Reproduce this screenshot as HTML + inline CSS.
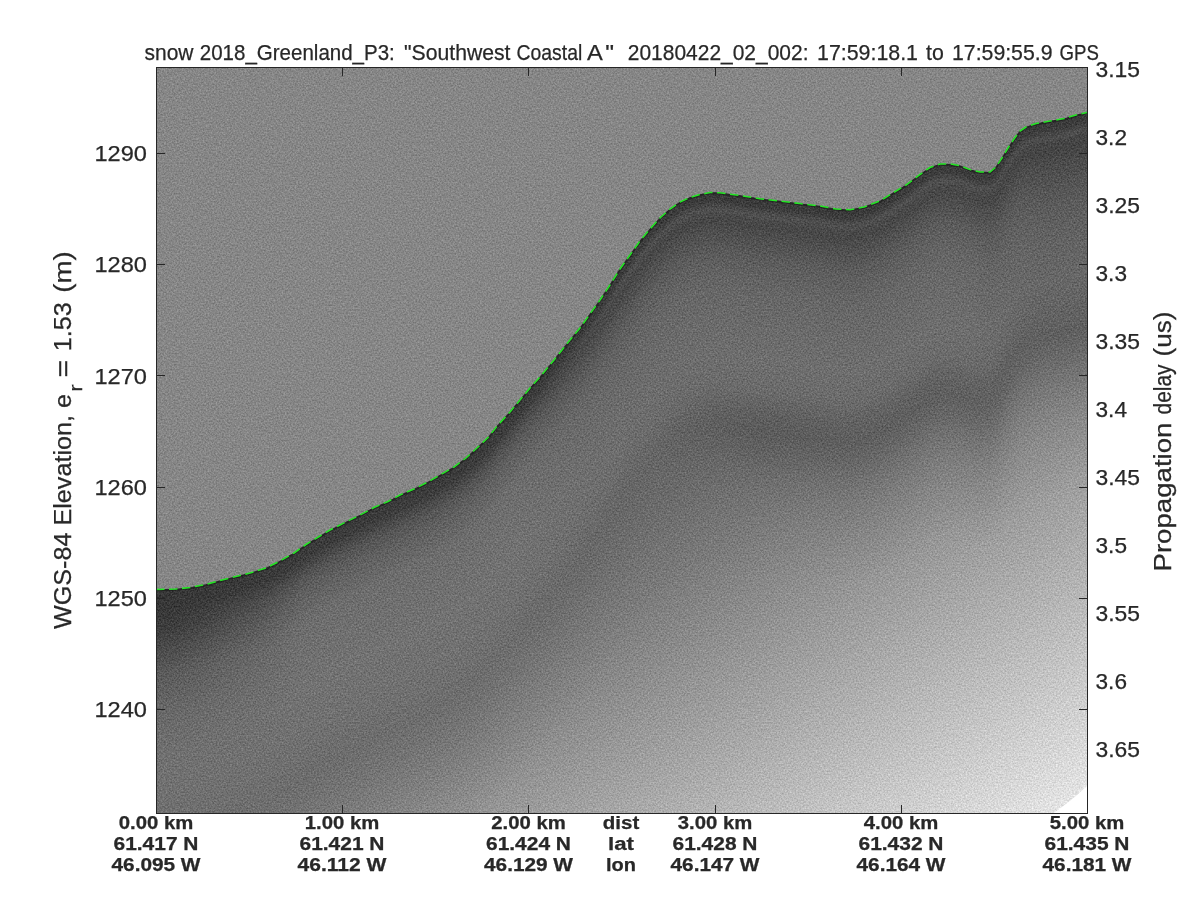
<!DOCTYPE html>
<html><head><meta charset="utf-8"><title>echogram</title>
<style>
html,body{margin:0;padding:0;background:#fff;}
body{width:1200px;height:900px;overflow:hidden;}
svg{display:block;}
text{font-family:"Liberation Sans",sans-serif;fill:#262626;stroke:#262626;stroke-width:0.25px;}
</style></head><body>
<svg width="1200" height="900" viewBox="0 0 1200 900">
<defs>
<path id="surf" d="M156,589.5 L176,589 L190,587.5 L206,584.5 L224,579.5 L250,573 L266,568 L280,561 L294,553 L306,544.5 L320,536 L330,530 L345,522.5 L360,515 L374,507.5 L388,501.5 L400,495 L414,489 L428,482 L440,475 L454,467 L466,458 L478,447 L488,437.5 L498,425 L510,412 L520,400 L530,388 L540,377 L550,365 L560,352.5 L570,340 L580,328 L590,314 L600,300 L610,285 L620,269 L630,255 L640,241 L650,229 L660,218 L670,209 L680,202 L690,197.5 L700,194.5 L710,192.5 L720,192.8 L740,195.5 L760,198.8 L780,201 L800,203.6 L820,206 L836,209 L850,209.8 L864,207 L880,201 L892,193.5 L906,185 L920,174.5 L930,167.5 L940,164 L950,164 L960,165.6 L970,169.6 L980,172 L990,172 L996,167 L1002,158 L1008,148 L1014,139 L1020,131 L1026,127 L1036,123.6 L1050,121 L1064,118.6 L1076,115 L1087,112.4"/>
<path id="below" d="M156,589.5 L176,589 L190,587.5 L206,584.5 L224,579.5 L250,573 L266,568 L280,561 L294,553 L306,544.5 L320,536 L330,530 L345,522.5 L360,515 L374,507.5 L388,501.5 L400,495 L414,489 L428,482 L440,475 L454,467 L466,458 L478,447 L488,437.5 L498,425 L510,412 L520,400 L530,388 L540,377 L550,365 L560,352.5 L570,340 L580,328 L590,314 L600,300 L610,285 L620,269 L630,255 L640,241 L650,229 L660,218 L670,209 L680,202 L690,197.5 L700,194.5 L710,192.5 L720,192.8 L740,195.5 L760,198.8 L780,201 L800,203.6 L820,206 L836,209 L850,209.8 L864,207 L880,201 L892,193.5 L906,185 L920,174.5 L930,167.5 L940,164 L950,164 L960,165.6 L970,169.6 L980,172 L990,172 L996,167 L1002,158 L1008,148 L1014,139 L1020,131 L1026,127 L1036,123.6 L1050,121 L1064,118.6 L1076,115 L1087,112.4 V2000 H156 Z"/>
<clipPath id="plot"><rect x="156" y="67" width="931" height="746"/></clipPath>
<clipPath id="bclip"><use href="#below"/></clipPath>
<filter id="grain" x="0" y="0" width="100%" height="100%" color-interpolation-filters="sRGB">
<feTurbulence type="fractalNoise" baseFrequency="0.62" numOctaves="2" seed="7" result="t"/>
<feColorMatrix in="t" type="matrix" values="1 0 0 0 0  1 0 0 0 0  1 0 0 0 0  0 0 0 0 1" result="n"/>
<feComposite in="SourceGraphic" in2="n" operator="arithmetic" k1="0" k2="1" k3="0.28" k4="-0.14"/>
</filter>
<linearGradient id="plane" gradientUnits="userSpaceOnUse" x1="451.3" y1="161.3" x2="968.0" y2="990.6"><stop offset="0" stop-color="#000"/><stop offset="1" stop-color="#fff"/></linearGradient>
<linearGradient id="xg1" gradientUnits="userSpaceOnUse" x1="165" y1="0" x2="300" y2="0"><stop offset="0" stop-color="#000"/><stop offset="1" stop-color="#fff"/></linearGradient>
<mask id="xm1" maskUnits="userSpaceOnUse" x="156" y="67" width="931" height="746"><rect x="156" y="67" width="931" height="746" fill="url(#xg1)"/></mask>
<linearGradient id="xg2" gradientUnits="userSpaceOnUse" x1="520" y1="0" x2="630" y2="0"><stop offset="0" stop-color="#000"/><stop offset="1" stop-color="#fff"/></linearGradient>
<mask id="xm2" maskUnits="userSpaceOnUse" x="156" y="67" width="931" height="746"><rect x="156" y="67" width="931" height="746" fill="url(#xg2)"/></mask>
<linearGradient id="xg3" gradientUnits="userSpaceOnUse" x1="660" y1="0" x2="760" y2="0"><stop offset="0" stop-color="#000"/><stop offset="1" stop-color="#fff"/></linearGradient>
<mask id="xm3" maskUnits="userSpaceOnUse" x="156" y="67" width="931" height="746"><rect x="156" y="67" width="931" height="746" fill="url(#xg3)"/></mask>
<linearGradient id="xg4" gradientUnits="userSpaceOnUse" x1="975" y1="0" x2="1045" y2="0"><stop offset="0" stop-color="#000"/><stop offset="1" stop-color="#fff"/></linearGradient>
<mask id="xm4" maskUnits="userSpaceOnUse" x="156" y="67" width="931" height="746"><rect x="156" y="67" width="931" height="746" fill="url(#xg4)"/></mask>
<mask id="wm" maskUnits="userSpaceOnUse" x="156" y="67" width="931" height="746">
<use href="#below" y="0" fill="#fff"/>
<use href="#below" y="190" fill="rgb(255,255,255)"/>
<use href="#below" y="194" fill="rgb(249,249,249)"/>
<use href="#below" y="198" fill="rgb(244,244,244)"/>
<use href="#below" y="202" fill="rgb(238,238,238)"/>
<use href="#below" y="206" fill="rgb(232,232,232)"/>
<use href="#below" y="210" fill="rgb(227,227,227)"/>
<use href="#below" y="214" fill="rgb(221,221,221)"/>
<use href="#below" y="218" fill="rgb(215,215,215)"/>
<use href="#below" y="222" fill="rgb(210,210,210)"/>
<use href="#below" y="226" fill="rgb(204,204,204)"/>
<use href="#below" y="230" fill="rgb(198,198,198)"/>
<use href="#below" y="234" fill="rgb(193,193,193)"/>
<use href="#below" y="238" fill="rgb(187,187,187)"/>
<use href="#below" y="242" fill="rgb(181,181,181)"/>
<use href="#below" y="246" fill="rgb(176,176,176)"/>
<use href="#below" y="250" fill="rgb(170,170,170)"/>
<use href="#below" y="254" fill="rgb(164,164,164)"/>
<use href="#below" y="258" fill="rgb(159,159,159)"/>
<use href="#below" y="262" fill="rgb(153,153,153)"/>
<use href="#below" y="266" fill="rgb(147,147,147)"/>
<use href="#below" y="270" fill="rgb(142,142,142)"/>
<use href="#below" y="274" fill="rgb(136,136,136)"/>
<use href="#below" y="278" fill="rgb(130,130,130)"/>
<use href="#below" y="282" fill="rgb(125,125,125)"/>
<use href="#below" y="286" fill="rgb(119,119,119)"/>
<use href="#below" y="290" fill="rgb(113,113,113)"/>
<use href="#below" y="294" fill="rgb(108,108,108)"/>
<use href="#below" y="298" fill="rgb(102,102,102)"/>
<use href="#below" y="302" fill="rgb(96,96,96)"/>
<use href="#below" y="306" fill="rgb(91,91,91)"/>
<use href="#below" y="310" fill="rgb(85,85,85)"/>
<use href="#below" y="314" fill="rgb(79,79,79)"/>
<use href="#below" y="318" fill="rgb(74,74,74)"/>
<use href="#below" y="322" fill="rgb(68,68,68)"/>
<use href="#below" y="326" fill="rgb(62,62,62)"/>
<use href="#below" y="330" fill="rgb(57,57,57)"/>
<use href="#below" y="334" fill="rgb(51,51,51)"/>
<use href="#below" y="338" fill="rgb(45,45,45)"/>
<use href="#below" y="342" fill="rgb(40,40,40)"/>
<use href="#below" y="346" fill="rgb(34,34,34)"/>
<use href="#below" y="350" fill="rgb(28,28,28)"/>
<use href="#below" y="354" fill="rgb(23,23,23)"/>
<use href="#below" y="358" fill="rgb(17,17,17)"/>
<use href="#below" y="362" fill="rgb(11,11,11)"/>
<use href="#below" y="366" fill="rgb(6,6,6)"/>
<use href="#below" y="370" fill="rgb(0,0,0)"/>
</mask>
<linearGradient id="xg" x1="0" x2="1" y1="0" y2="0">
<stop offset="0" stop-color="#000" stop-opacity="0.10"/>
<stop offset="0.5" stop-color="#000" stop-opacity="0"/>
<stop offset="0.5" stop-color="#fff" stop-opacity="0"/>
<stop offset="1" stop-color="#fff" stop-opacity="0.06"/>
</linearGradient>
</defs>
<rect width="1200" height="900" fill="#fff"/>
<g clip-path="url(#plot)">
<g filter="url(#grain)">
<rect x="156" y="67" width="931" height="746" fill="#868686"/>
<g clip-path="url(#bclip)">
<rect x="156" y="67" width="931" height="746" fill="url(#plane)"/>
<g mask="url(#wm)">
<g>
<use href="#below" y="0" fill="rgb(55,55,55)"/>
<use href="#below" y="8" fill="rgb(56,56,56)"/>
<use href="#below" y="20" fill="rgb(57,57,57)"/>
<use href="#below" y="24" fill="rgb(58,58,58)"/>
<use href="#below" y="28" fill="rgb(59,59,59)"/>
<use href="#below" y="32" fill="rgb(60,60,60)"/>
<use href="#below" y="36" fill="rgb(61,61,61)"/>
<use href="#below" y="40" fill="rgb(64,64,64)"/>
<use href="#below" y="44" fill="rgb(66,66,66)"/>
<use href="#below" y="48" fill="rgb(69,69,69)"/>
<use href="#below" y="52" fill="rgb(72,72,72)"/>
<use href="#below" y="56" fill="rgb(75,75,75)"/>
<use href="#below" y="60" fill="rgb(77,77,77)"/>
<use href="#below" y="64" fill="rgb(80,80,80)"/>
<use href="#below" y="68" fill="rgb(82,82,82)"/>
<use href="#below" y="72" fill="rgb(85,85,85)"/>
<use href="#below" y="76" fill="rgb(87,87,87)"/>
<use href="#below" y="80" fill="rgb(90,90,90)"/>
<use href="#below" y="84" fill="rgb(91,91,91)"/>
<use href="#below" y="88" fill="rgb(93,93,93)"/>
<use href="#below" y="92" fill="rgb(94,94,94)"/>
<use href="#below" y="96" fill="rgb(96,96,96)"/>
<use href="#below" y="100" fill="rgb(97,97,97)"/>
<use href="#below" y="104" fill="rgb(98,98,98)"/>
<use href="#below" y="108" fill="rgb(100,100,100)"/>
<use href="#below" y="112" fill="rgb(101,101,101)"/>
<use href="#below" y="116" fill="rgb(103,103,103)"/>
<use href="#below" y="120" fill="rgb(104,104,104)"/>
<use href="#below" y="124" fill="rgb(105,105,105)"/>
<use href="#below" y="128" fill="rgb(106,106,106)"/>
<use href="#below" y="136" fill="rgb(107,107,107)"/>
<use href="#below" y="140" fill="rgb(108,108,108)"/>
<use href="#below" y="144" fill="rgb(109,109,109)"/>
<use href="#below" y="148" fill="rgb(110,110,110)"/>
<use href="#below" y="156" fill="rgb(111,111,111)"/>
<use href="#below" y="160" fill="rgb(112,112,112)"/>
<use href="#below" y="172" fill="rgb(113,113,113)"/>
<use href="#below" y="192" fill="rgb(114,114,114)"/>
<use href="#below" y="212" fill="rgb(113,113,113)"/>
<use href="#below" y="232" fill="rgb(112,112,112)"/>
<use href="#below" y="248" fill="rgb(113,113,113)"/>
<use href="#below" y="260" fill="rgb(114,114,114)"/>
<use href="#below" y="276" fill="rgb(115,115,115)"/>
<use href="#below" y="284" fill="rgb(116,116,116)"/>
<use href="#below" y="292" fill="rgb(117,117,117)"/>
<use href="#below" y="300" fill="rgb(118,118,118)"/>
<use href="#below" y="308" fill="rgb(119,119,119)"/>
<use href="#below" y="312" fill="rgb(120,120,120)"/>
<use href="#below" y="320" fill="rgb(121,121,121)"/>
<use href="#below" y="328" fill="rgb(122,122,122)"/>
<use href="#below" y="336" fill="rgb(123,123,123)"/>
<use href="#below" y="340" fill="rgb(124,124,124)"/>
<use href="#below" y="348" fill="rgb(125,125,125)"/>
<use href="#below" y="356" fill="rgb(126,126,126)"/>
<use href="#below" y="364" fill="rgb(127,127,127)"/>
<use href="#below" y="372" fill="rgb(128,128,128)"/>
</g>
<g mask="url(#xm1)">
<use href="#below" y="0" fill="rgb(58,58,58)"/>
<use href="#below" y="4" fill="rgb(59,59,59)"/>
<use href="#below" y="10" fill="rgb(60,60,60)"/>
<use href="#below" y="14" fill="rgb(63,63,63)"/>
<use href="#below" y="16" fill="rgb(66,66,66)"/>
<use href="#below" y="18" fill="rgb(68,68,68)"/>
<use href="#below" y="20" fill="rgb(71,71,71)"/>
<use href="#below" y="22" fill="rgb(74,74,74)"/>
<use href="#below" y="24" fill="rgb(76,76,76)"/>
<use href="#below" y="26" fill="rgb(79,79,79)"/>
<use href="#below" y="28" fill="rgb(81,81,81)"/>
<use href="#below" y="30" fill="rgb(84,84,84)"/>
<use href="#below" y="32" fill="rgb(86,86,86)"/>
<use href="#below" y="34" fill="rgb(87,87,87)"/>
<use href="#below" y="36" fill="rgb(89,89,89)"/>
<use href="#below" y="38" fill="rgb(90,90,90)"/>
<use href="#below" y="40" fill="rgb(92,92,92)"/>
<use href="#below" y="42" fill="rgb(94,94,94)"/>
<use href="#below" y="44" fill="rgb(95,95,95)"/>
<use href="#below" y="48" fill="rgb(97,97,97)"/>
<use href="#below" y="52" fill="rgb(99,99,99)"/>
<use href="#below" y="56" fill="rgb(101,101,101)"/>
<use href="#below" y="60" fill="rgb(102,102,102)"/>
<use href="#below" y="64" fill="rgb(104,104,104)"/>
<use href="#below" y="68" fill="rgb(106,106,106)"/>
<use href="#below" y="72" fill="rgb(108,108,108)"/>
<use href="#below" y="76" fill="rgb(109,109,109)"/>
<use href="#below" y="84" fill="rgb(110,110,110)"/>
<use href="#below" y="96" fill="rgb(111,111,111)"/>
<use href="#below" y="108" fill="rgb(112,112,112)"/>
<use href="#below" y="124" fill="rgb(113,113,113)"/>
<use href="#below" y="136" fill="rgb(114,114,114)"/>
<use href="#below" y="156" fill="rgb(113,113,113)"/>
<use href="#below" y="188" fill="rgb(112,112,112)"/>
<use href="#below" y="204" fill="rgb(111,111,111)"/>
<use href="#below" y="212" fill="rgb(110,110,110)"/>
<use href="#below" y="216" fill="rgb(109,109,109)"/>
<use href="#below" y="224" fill="rgb(108,108,108)"/>
<use href="#below" y="228" fill="rgb(107,107,107)"/>
<use href="#below" y="236" fill="rgb(108,108,108)"/>
<use href="#below" y="248" fill="rgb(109,109,109)"/>
<use href="#below" y="256" fill="rgb(110,110,110)"/>
<use href="#below" y="264" fill="rgb(111,111,111)"/>
<use href="#below" y="268" fill="rgb(112,112,112)"/>
<use href="#below" y="276" fill="rgb(113,113,113)"/>
<use href="#below" y="280" fill="rgb(114,114,114)"/>
<use href="#below" y="284" fill="rgb(115,115,115)"/>
<use href="#below" y="288" fill="rgb(116,116,116)"/>
<use href="#below" y="296" fill="rgb(117,117,117)"/>
<use href="#below" y="300" fill="rgb(118,118,118)"/>
<use href="#below" y="304" fill="rgb(119,119,119)"/>
<use href="#below" y="312" fill="rgb(120,120,120)"/>
<use href="#below" y="316" fill="rgb(121,121,121)"/>
<use href="#below" y="324" fill="rgb(122,122,122)"/>
<use href="#below" y="332" fill="rgb(123,123,123)"/>
<use href="#below" y="336" fill="rgb(124,124,124)"/>
<use href="#below" y="344" fill="rgb(125,125,125)"/>
<use href="#below" y="348" fill="rgb(126,126,126)"/>
<use href="#below" y="356" fill="rgb(127,127,127)"/>
<use href="#below" y="360" fill="rgb(128,128,128)"/>
<use href="#below" y="368" fill="rgb(129,129,129)"/>
<use href="#below" y="372" fill="rgb(130,130,130)"/>
</g>
<g mask="url(#xm2)">
<use href="#below" y="0" fill="rgb(58,58,58)"/>
<use href="#below" y="2" fill="rgb(59,59,59)"/>
<use href="#below" y="6" fill="rgb(60,60,60)"/>
<use href="#below" y="8" fill="rgb(62,62,62)"/>
<use href="#below" y="10" fill="rgb(68,68,68)"/>
<use href="#below" y="12" fill="rgb(72,72,72)"/>
<use href="#below" y="14" fill="rgb(77,77,77)"/>
<use href="#below" y="16" fill="rgb(79,79,79)"/>
<use href="#below" y="18" fill="rgb(78,78,78)"/>
<use href="#below" y="20" fill="rgb(75,75,75)"/>
<use href="#below" y="22" fill="rgb(73,73,73)"/>
<use href="#below" y="26" fill="rgb(72,72,72)"/>
<use href="#below" y="30" fill="rgb(73,73,73)"/>
<use href="#below" y="32" fill="rgb(75,75,75)"/>
<use href="#below" y="34" fill="rgb(76,76,76)"/>
<use href="#below" y="36" fill="rgb(77,77,77)"/>
<use href="#below" y="38" fill="rgb(79,79,79)"/>
<use href="#below" y="40" fill="rgb(80,80,80)"/>
<use href="#below" y="42" fill="rgb(81,81,81)"/>
<use href="#below" y="44" fill="rgb(82,82,82)"/>
<use href="#below" y="48" fill="rgb(85,85,85)"/>
<use href="#below" y="52" fill="rgb(87,87,87)"/>
<use href="#below" y="56" fill="rgb(90,90,90)"/>
<use href="#below" y="60" fill="rgb(92,92,92)"/>
<use href="#below" y="64" fill="rgb(93,93,93)"/>
<use href="#below" y="68" fill="rgb(95,95,95)"/>
<use href="#below" y="72" fill="rgb(96,96,96)"/>
<use href="#below" y="76" fill="rgb(97,97,97)"/>
<use href="#below" y="80" fill="rgb(99,99,99)"/>
<use href="#below" y="84" fill="rgb(100,100,100)"/>
<use href="#below" y="88" fill="rgb(101,101,101)"/>
<use href="#below" y="92" fill="rgb(102,102,102)"/>
<use href="#below" y="96" fill="rgb(103,103,103)"/>
<use href="#below" y="104" fill="rgb(104,104,104)"/>
<use href="#below" y="112" fill="rgb(105,105,105)"/>
<use href="#below" y="120" fill="rgb(106,106,106)"/>
<use href="#below" y="128" fill="rgb(107,107,107)"/>
<use href="#below" y="140" fill="rgb(108,108,108)"/>
<use href="#below" y="156" fill="rgb(109,109,109)"/>
<use href="#below" y="180" fill="rgb(108,108,108)"/>
<use href="#below" y="204" fill="rgb(107,107,107)"/>
<use href="#below" y="212" fill="rgb(106,106,106)"/>
<use href="#below" y="220" fill="rgb(105,105,105)"/>
<use href="#below" y="228" fill="rgb(104,104,104)"/>
<use href="#below" y="236" fill="rgb(105,105,105)"/>
<use href="#below" y="248" fill="rgb(106,106,106)"/>
<use href="#below" y="256" fill="rgb(107,107,107)"/>
<use href="#below" y="264" fill="rgb(108,108,108)"/>
<use href="#below" y="272" fill="rgb(109,109,109)"/>
<use href="#below" y="276" fill="rgb(110,110,110)"/>
<use href="#below" y="284" fill="rgb(111,111,111)"/>
<use href="#below" y="288" fill="rgb(112,112,112)"/>
<use href="#below" y="292" fill="rgb(113,113,113)"/>
<use href="#below" y="300" fill="rgb(114,114,114)"/>
<use href="#below" y="304" fill="rgb(115,115,115)"/>
<use href="#below" y="312" fill="rgb(116,116,116)"/>
<use href="#below" y="316" fill="rgb(117,117,117)"/>
<use href="#below" y="320" fill="rgb(118,118,118)"/>
<use href="#below" y="328" fill="rgb(119,119,119)"/>
<use href="#below" y="332" fill="rgb(120,120,120)"/>
<use href="#below" y="340" fill="rgb(121,121,121)"/>
<use href="#below" y="344" fill="rgb(122,122,122)"/>
<use href="#below" y="348" fill="rgb(123,123,123)"/>
<use href="#below" y="356" fill="rgb(124,124,124)"/>
<use href="#below" y="360" fill="rgb(125,125,125)"/>
<use href="#below" y="364" fill="rgb(126,126,126)"/>
<use href="#below" y="372" fill="rgb(127,127,127)"/>
</g>
<g mask="url(#xm3)">
<use href="#below" y="0" fill="rgb(58,58,58)"/>
<use href="#below" y="2" fill="rgb(59,59,59)"/>
<use href="#below" y="6" fill="rgb(60,60,60)"/>
<use href="#below" y="8" fill="rgb(62,62,62)"/>
<use href="#below" y="10" fill="rgb(68,68,68)"/>
<use href="#below" y="12" fill="rgb(72,72,72)"/>
<use href="#below" y="14" fill="rgb(77,77,77)"/>
<use href="#below" y="16" fill="rgb(79,79,79)"/>
<use href="#below" y="18" fill="rgb(78,78,78)"/>
<use href="#below" y="20" fill="rgb(75,75,75)"/>
<use href="#below" y="22" fill="rgb(73,73,73)"/>
<use href="#below" y="26" fill="rgb(72,72,72)"/>
<use href="#below" y="30" fill="rgb(73,73,73)"/>
<use href="#below" y="32" fill="rgb(75,75,75)"/>
<use href="#below" y="34" fill="rgb(76,76,76)"/>
<use href="#below" y="36" fill="rgb(77,77,77)"/>
<use href="#below" y="38" fill="rgb(79,79,79)"/>
<use href="#below" y="40" fill="rgb(80,80,80)"/>
<use href="#below" y="42" fill="rgb(81,81,81)"/>
<use href="#below" y="44" fill="rgb(82,82,82)"/>
<use href="#below" y="48" fill="rgb(85,85,85)"/>
<use href="#below" y="52" fill="rgb(87,87,87)"/>
<use href="#below" y="56" fill="rgb(90,90,90)"/>
<use href="#below" y="60" fill="rgb(92,92,92)"/>
<use href="#below" y="64" fill="rgb(93,93,93)"/>
<use href="#below" y="68" fill="rgb(95,95,95)"/>
<use href="#below" y="72" fill="rgb(96,96,96)"/>
<use href="#below" y="76" fill="rgb(97,97,97)"/>
<use href="#below" y="80" fill="rgb(99,99,99)"/>
<use href="#below" y="84" fill="rgb(100,100,100)"/>
<use href="#below" y="88" fill="rgb(101,101,101)"/>
<use href="#below" y="92" fill="rgb(102,102,102)"/>
<use href="#below" y="96" fill="rgb(103,103,103)"/>
<use href="#below" y="104" fill="rgb(104,104,104)"/>
<use href="#below" y="112" fill="rgb(105,105,105)"/>
<use href="#below" y="120" fill="rgb(106,106,106)"/>
<use href="#below" y="128" fill="rgb(107,107,107)"/>
<use href="#below" y="136" fill="rgb(108,108,108)"/>
<use href="#below" y="148" fill="rgb(109,109,109)"/>
<use href="#below" y="156" fill="rgb(110,110,110)"/>
<use href="#below" y="168" fill="rgb(109,109,109)"/>
<use href="#below" y="176" fill="rgb(108,108,108)"/>
<use href="#below" y="188" fill="rgb(107,107,107)"/>
<use href="#below" y="192" fill="rgb(106,106,106)"/>
<use href="#below" y="196" fill="rgb(104,104,104)"/>
<use href="#below" y="200" fill="rgb(102,102,102)"/>
<use href="#below" y="204" fill="rgb(100,100,100)"/>
<use href="#below" y="208" fill="rgb(98,98,98)"/>
<use href="#below" y="212" fill="rgb(96,96,96)"/>
<use href="#below" y="216" fill="rgb(94,94,94)"/>
<use href="#below" y="220" fill="rgb(92,92,92)"/>
<use href="#below" y="224" fill="rgb(91,91,91)"/>
<use href="#below" y="228" fill="rgb(89,89,89)"/>
<use href="#below" y="232" fill="rgb(88,88,88)"/>
<use href="#below" y="236" fill="rgb(89,89,89)"/>
<use href="#below" y="240" fill="rgb(90,90,90)"/>
<use href="#below" y="244" fill="rgb(91,91,91)"/>
<use href="#below" y="248" fill="rgb(92,92,92)"/>
<use href="#below" y="252" fill="rgb(93,93,93)"/>
<use href="#below" y="256" fill="rgb(95,95,95)"/>
<use href="#below" y="260" fill="rgb(97,97,97)"/>
<use href="#below" y="264" fill="rgb(99,99,99)"/>
<use href="#below" y="268" fill="rgb(100,100,100)"/>
<use href="#below" y="272" fill="rgb(102,102,102)"/>
<use href="#below" y="276" fill="rgb(104,104,104)"/>
<use href="#below" y="280" fill="rgb(106,106,106)"/>
<use href="#below" y="284" fill="rgb(107,107,107)"/>
<use href="#below" y="288" fill="rgb(108,108,108)"/>
<use href="#below" y="292" fill="rgb(110,110,110)"/>
<use href="#below" y="296" fill="rgb(111,111,111)"/>
<use href="#below" y="300" fill="rgb(112,112,112)"/>
<use href="#below" y="304" fill="rgb(113,113,113)"/>
<use href="#below" y="308" fill="rgb(114,114,114)"/>
<use href="#below" y="312" fill="rgb(116,116,116)"/>
<use href="#below" y="316" fill="rgb(117,117,117)"/>
<use href="#below" y="320" fill="rgb(118,118,118)"/>
<use href="#below" y="324" fill="rgb(119,119,119)"/>
<use href="#below" y="328" fill="rgb(120,120,120)"/>
<use href="#below" y="336" fill="rgb(121,121,121)"/>
<use href="#below" y="340" fill="rgb(122,122,122)"/>
<use href="#below" y="344" fill="rgb(123,123,123)"/>
<use href="#below" y="348" fill="rgb(124,124,124)"/>
<use href="#below" y="356" fill="rgb(125,125,125)"/>
<use href="#below" y="360" fill="rgb(126,126,126)"/>
<use href="#below" y="364" fill="rgb(127,127,127)"/>
<use href="#below" y="368" fill="rgb(128,128,128)"/>
</g>
<g mask="url(#xm4)">
<use href="#below" y="0" fill="rgb(58,58,58)"/>
<use href="#below" y="2" fill="rgb(59,59,59)"/>
<use href="#below" y="6" fill="rgb(60,60,60)"/>
<use href="#below" y="8" fill="rgb(62,62,62)"/>
<use href="#below" y="10" fill="rgb(66,66,66)"/>
<use href="#below" y="12" fill="rgb(70,70,70)"/>
<use href="#below" y="14" fill="rgb(75,75,75)"/>
<use href="#below" y="16" fill="rgb(77,77,77)"/>
<use href="#below" y="18" fill="rgb(76,76,76)"/>
<use href="#below" y="20" fill="rgb(72,72,72)"/>
<use href="#below" y="22" fill="rgb(70,70,70)"/>
<use href="#below" y="24" fill="rgb(69,69,69)"/>
<use href="#below" y="28" fill="rgb(68,68,68)"/>
<use href="#below" y="30" fill="rgb(69,69,69)"/>
<use href="#below" y="32" fill="rgb(70,70,70)"/>
<use href="#below" y="34" fill="rgb(71,71,71)"/>
<use href="#below" y="36" fill="rgb(72,72,72)"/>
<use href="#below" y="38" fill="rgb(73,73,73)"/>
<use href="#below" y="40" fill="rgb(74,74,74)"/>
<use href="#below" y="42" fill="rgb(75,75,75)"/>
<use href="#below" y="44" fill="rgb(76,76,76)"/>
<use href="#below" y="48" fill="rgb(78,78,78)"/>
<use href="#below" y="52" fill="rgb(79,79,79)"/>
<use href="#below" y="56" fill="rgb(81,81,81)"/>
<use href="#below" y="60" fill="rgb(83,83,83)"/>
<use href="#below" y="64" fill="rgb(84,84,84)"/>
<use href="#below" y="68" fill="rgb(86,86,86)"/>
<use href="#below" y="72" fill="rgb(87,87,87)"/>
<use href="#below" y="76" fill="rgb(88,88,88)"/>
<use href="#below" y="80" fill="rgb(90,90,90)"/>
<use href="#below" y="84" fill="rgb(91,91,91)"/>
<use href="#below" y="88" fill="rgb(92,92,92)"/>
<use href="#below" y="92" fill="rgb(93,93,93)"/>
<use href="#below" y="96" fill="rgb(94,94,94)"/>
<use href="#below" y="100" fill="rgb(95,95,95)"/>
<use href="#below" y="104" fill="rgb(96,96,96)"/>
<use href="#below" y="108" fill="rgb(97,97,97)"/>
<use href="#below" y="116" fill="rgb(98,98,98)"/>
<use href="#below" y="120" fill="rgb(99,99,99)"/>
<use href="#below" y="128" fill="rgb(100,100,100)"/>
<use href="#below" y="136" fill="rgb(101,101,101)"/>
<use href="#below" y="148" fill="rgb(102,102,102)"/>
<use href="#below" y="156" fill="rgb(103,103,103)"/>
<use href="#below" y="164" fill="rgb(102,102,102)"/>
<use href="#below" y="172" fill="rgb(101,101,101)"/>
<use href="#below" y="180" fill="rgb(100,100,100)"/>
<use href="#below" y="188" fill="rgb(99,99,99)"/>
<use href="#below" y="192" fill="rgb(98,98,98)"/>
<use href="#below" y="196" fill="rgb(97,97,97)"/>
<use href="#below" y="200" fill="rgb(96,96,96)"/>
<use href="#below" y="204" fill="rgb(95,95,95)"/>
<use href="#below" y="208" fill="rgb(93,93,93)"/>
<use href="#below" y="212" fill="rgb(92,92,92)"/>
<use href="#below" y="216" fill="rgb(93,93,93)"/>
<use href="#below" y="220" fill="rgb(94,94,94)"/>
<use href="#below" y="224" fill="rgb(95,95,95)"/>
<use href="#below" y="228" fill="rgb(96,96,96)"/>
<use href="#below" y="232" fill="rgb(97,97,97)"/>
<use href="#below" y="236" fill="rgb(98,98,98)"/>
<use href="#below" y="240" fill="rgb(100,100,100)"/>
<use href="#below" y="244" fill="rgb(101,101,101)"/>
<use href="#below" y="248" fill="rgb(103,103,103)"/>
<use href="#below" y="252" fill="rgb(105,105,105)"/>
<use href="#below" y="256" fill="rgb(106,106,106)"/>
<use href="#below" y="260" fill="rgb(108,108,108)"/>
<use href="#below" y="264" fill="rgb(110,110,110)"/>
<use href="#below" y="268" fill="rgb(111,111,111)"/>
<use href="#below" y="272" fill="rgb(113,113,113)"/>
<use href="#below" y="276" fill="rgb(115,115,115)"/>
<use href="#below" y="280" fill="rgb(116,116,116)"/>
<use href="#below" y="284" fill="rgb(118,118,118)"/>
<use href="#below" y="288" fill="rgb(119,119,119)"/>
<use href="#below" y="292" fill="rgb(121,121,121)"/>
<use href="#below" y="296" fill="rgb(122,122,122)"/>
<use href="#below" y="300" fill="rgb(124,124,124)"/>
<use href="#below" y="304" fill="rgb(125,125,125)"/>
<use href="#below" y="308" fill="rgb(126,126,126)"/>
<use href="#below" y="312" fill="rgb(128,128,128)"/>
<use href="#below" y="316" fill="rgb(129,129,129)"/>
<use href="#below" y="320" fill="rgb(130,130,130)"/>
<use href="#below" y="324" fill="rgb(131,131,131)"/>
<use href="#below" y="328" fill="rgb(132,132,132)"/>
<use href="#below" y="332" fill="rgb(134,134,134)"/>
<use href="#below" y="336" fill="rgb(135,135,135)"/>
<use href="#below" y="340" fill="rgb(136,136,136)"/>
<use href="#below" y="344" fill="rgb(137,137,137)"/>
<use href="#below" y="348" fill="rgb(138,138,138)"/>
<use href="#below" y="352" fill="rgb(139,139,139)"/>
<use href="#below" y="356" fill="rgb(140,140,140)"/>
<use href="#below" y="360" fill="rgb(141,141,141)"/>
<use href="#below" y="364" fill="rgb(142,142,142)"/>
<use href="#below" y="368" fill="rgb(143,143,143)"/>
</g>
</g>
</g>
</g>
<use href="#surf" y="0.8" fill="none" stroke="#1c1c1c" stroke-width="2" stroke-opacity="0.7"/>
<use href="#surf" fill="none" stroke="#24e624" stroke-width="1.55" stroke-dasharray="8.5 4.5"/>
<path d="M1052,814 Q1070,802 1088,785 V814 Z" fill="#fff"/>
</g>
<g stroke="#262626" stroke-width="1" fill="none" shape-rendering="crispEdges">
<rect x="156.5" y="67.5" width="931" height="746"/>
<path d="M156,153.5h9M1088,153.5h-9"/>
<path d="M156,264.5h9M1088,264.5h-9"/>
<path d="M156,375.5h9M1088,375.5h-9"/>
<path d="M156,487.5h9M1088,487.5h-9"/>
<path d="M156,598.5h9M1088,598.5h-9"/>
<path d="M156,709.5h9M1088,709.5h-9"/>
<path d="M342.5,67v9M342.5,814v-9"/>
<path d="M528.5,67v9M528.5,814v-9"/>
<path d="M715.5,67v9M715.5,814v-9"/>
<path d="M901.5,67v9M901.5,814v-9"/>
</g>
<g opacity="0.99">
<text x="144.5" y="60" font-size="21.5" fill="#000" stroke="#000" textLength="49.0" lengthAdjust="spacingAndGlyphs">snow</text>
<text x="199.8" y="60" font-size="21.5" fill="#000" stroke="#000" textLength="195.0" lengthAdjust="spacingAndGlyphs">2018_Greenland_P3:</text>
<text x="404.0" y="60" font-size="21.5" fill="#000" stroke="#000" textLength="106.5" lengthAdjust="spacingAndGlyphs">&quot;Southwest</text>
<text x="516.5" y="60" font-size="21.5" fill="#000" stroke="#000" textLength="65.8" lengthAdjust="spacingAndGlyphs">Coastal</text>
<text x="587.0" y="60" font-size="21.5" fill="#000" stroke="#000" textLength="15.8" lengthAdjust="spacingAndGlyphs">A</text>
<text x="605.3" y="60" font-size="21.5" fill="#000" stroke="#000" textLength="8.8" lengthAdjust="spacingAndGlyphs">&quot;</text>
<text x="627.8" y="60" font-size="21.5" fill="#000" stroke="#000" textLength="180.7" lengthAdjust="spacingAndGlyphs">20180422_02_002:</text>
<text x="817.0" y="60" font-size="21.5" fill="#000" stroke="#000" textLength="101.0" lengthAdjust="spacingAndGlyphs">17:59:18.1</text>
<text x="926.0" y="60" font-size="21.5" fill="#000" stroke="#000" textLength="17.8" lengthAdjust="spacingAndGlyphs">to</text>
<text x="952.0" y="60" font-size="21.5" fill="#000" stroke="#000" textLength="100.5" lengthAdjust="spacingAndGlyphs">17:59:55.9</text>
<text x="1059.5" y="60" font-size="21.5" fill="#000" stroke="#000" textLength="39.3" lengthAdjust="spacingAndGlyphs">GPS</text>
<text x="147" y="161.1" text-anchor="end" font-size="22" textLength="52.5" lengthAdjust="spacingAndGlyphs">1290</text>
<text x="147" y="272.3" text-anchor="end" font-size="22" textLength="52.5" lengthAdjust="spacingAndGlyphs">1280</text>
<text x="147" y="383.5" text-anchor="end" font-size="22" textLength="52.5" lengthAdjust="spacingAndGlyphs">1270</text>
<text x="147" y="494.70000000000005" text-anchor="end" font-size="22" textLength="52.5" lengthAdjust="spacingAndGlyphs">1260</text>
<text x="147" y="605.9" text-anchor="end" font-size="22" textLength="52.5" lengthAdjust="spacingAndGlyphs">1250</text>
<text x="147" y="717.1" text-anchor="end" font-size="22" textLength="52.5" lengthAdjust="spacingAndGlyphs">1240</text>
<text x="1095.5" y="77.1" font-size="22" textLength="44.5" lengthAdjust="spacingAndGlyphs">3.15</text>
<text x="1095.5" y="145.1" font-size="22" textLength="31.5" lengthAdjust="spacingAndGlyphs">3.2</text>
<text x="1095.5" y="213.1" font-size="22" textLength="44.5" lengthAdjust="spacingAndGlyphs">3.25</text>
<text x="1095.5" y="281.1" font-size="22" textLength="31.5" lengthAdjust="spacingAndGlyphs">3.3</text>
<text x="1095.5" y="349.1" font-size="22" textLength="44.5" lengthAdjust="spacingAndGlyphs">3.35</text>
<text x="1095.5" y="417.1" font-size="22" textLength="31.5" lengthAdjust="spacingAndGlyphs">3.4</text>
<text x="1095.5" y="485.1" font-size="22" textLength="44.5" lengthAdjust="spacingAndGlyphs">3.45</text>
<text x="1095.5" y="553.1" font-size="22" textLength="31.5" lengthAdjust="spacingAndGlyphs">3.5</text>
<text x="1095.5" y="621.1" font-size="22" textLength="44.5" lengthAdjust="spacingAndGlyphs">3.55</text>
<text x="1095.5" y="689.1" font-size="22" textLength="31.5" lengthAdjust="spacingAndGlyphs">3.6</text>
<text x="1095.5" y="757.1" font-size="22" textLength="44.5" lengthAdjust="spacingAndGlyphs">3.65</text>
<text x="156" y="829.3" text-anchor="middle" font-size="17.5" font-weight="bold" fill="#000" stroke="#000" stroke-width="0.35" textLength="74.5" lengthAdjust="spacingAndGlyphs">0.00 km</text>
<text x="156" y="850.3" text-anchor="middle" font-size="17.5" font-weight="bold" fill="#000" stroke="#000" stroke-width="0.35" textLength="85" lengthAdjust="spacingAndGlyphs">61.417 N</text>
<text x="156" y="871.3" text-anchor="middle" font-size="17.5" font-weight="bold" fill="#000" stroke="#000" stroke-width="0.35" textLength="89" lengthAdjust="spacingAndGlyphs">46.095 W</text>
<text x="342" y="829.3" text-anchor="middle" font-size="17.5" font-weight="bold" fill="#000" stroke="#000" stroke-width="0.35" textLength="74.5" lengthAdjust="spacingAndGlyphs">1.00 km</text>
<text x="342" y="850.3" text-anchor="middle" font-size="17.5" font-weight="bold" fill="#000" stroke="#000" stroke-width="0.35" textLength="85" lengthAdjust="spacingAndGlyphs">61.421 N</text>
<text x="342" y="871.3" text-anchor="middle" font-size="17.5" font-weight="bold" fill="#000" stroke="#000" stroke-width="0.35" textLength="89" lengthAdjust="spacingAndGlyphs">46.112 W</text>
<text x="528.5" y="829.3" text-anchor="middle" font-size="17.5" font-weight="bold" fill="#000" stroke="#000" stroke-width="0.35" textLength="74.5" lengthAdjust="spacingAndGlyphs">2.00 km</text>
<text x="528.5" y="850.3" text-anchor="middle" font-size="17.5" font-weight="bold" fill="#000" stroke="#000" stroke-width="0.35" textLength="85" lengthAdjust="spacingAndGlyphs">61.424 N</text>
<text x="528.5" y="871.3" text-anchor="middle" font-size="17.5" font-weight="bold" fill="#000" stroke="#000" stroke-width="0.35" textLength="89" lengthAdjust="spacingAndGlyphs">46.129 W</text>
<text x="715" y="829.3" text-anchor="middle" font-size="17.5" font-weight="bold" fill="#000" stroke="#000" stroke-width="0.35" textLength="74.5" lengthAdjust="spacingAndGlyphs">3.00 km</text>
<text x="715" y="850.3" text-anchor="middle" font-size="17.5" font-weight="bold" fill="#000" stroke="#000" stroke-width="0.35" textLength="85" lengthAdjust="spacingAndGlyphs">61.428 N</text>
<text x="715" y="871.3" text-anchor="middle" font-size="17.5" font-weight="bold" fill="#000" stroke="#000" stroke-width="0.35" textLength="89" lengthAdjust="spacingAndGlyphs">46.147 W</text>
<text x="901" y="829.3" text-anchor="middle" font-size="17.5" font-weight="bold" fill="#000" stroke="#000" stroke-width="0.35" textLength="74.5" lengthAdjust="spacingAndGlyphs">4.00 km</text>
<text x="901" y="850.3" text-anchor="middle" font-size="17.5" font-weight="bold" fill="#000" stroke="#000" stroke-width="0.35" textLength="85" lengthAdjust="spacingAndGlyphs">61.432 N</text>
<text x="901" y="871.3" text-anchor="middle" font-size="17.5" font-weight="bold" fill="#000" stroke="#000" stroke-width="0.35" textLength="89" lengthAdjust="spacingAndGlyphs">46.164 W</text>
<text x="1087" y="829.3" text-anchor="middle" font-size="17.5" font-weight="bold" fill="#000" stroke="#000" stroke-width="0.35" textLength="74.5" lengthAdjust="spacingAndGlyphs">5.00 km</text>
<text x="1087" y="850.3" text-anchor="middle" font-size="17.5" font-weight="bold" fill="#000" stroke="#000" stroke-width="0.35" textLength="85" lengthAdjust="spacingAndGlyphs">61.435 N</text>
<text x="1087" y="871.3" text-anchor="middle" font-size="17.5" font-weight="bold" fill="#000" stroke="#000" stroke-width="0.35" textLength="89" lengthAdjust="spacingAndGlyphs">46.181 W</text>
<text x="621" y="829.3" text-anchor="middle" font-size="17.5" font-weight="bold" fill="#000" stroke="#000" stroke-width="0.35" textLength="36.5" lengthAdjust="spacingAndGlyphs">dist</text>
<text x="621" y="850.3" text-anchor="middle" font-size="17.5" font-weight="bold" fill="#000" stroke="#000" stroke-width="0.35" textLength="26" lengthAdjust="spacingAndGlyphs">lat</text>
<text x="621" y="871.3" text-anchor="middle" font-size="17.5" font-weight="bold" fill="#000" stroke="#000" stroke-width="0.35" textLength="30" lengthAdjust="spacingAndGlyphs">lon</text>
<g transform="translate(71,0) rotate(-90)">
<text x="-629" y="0" font-size="23.3" textLength="235" lengthAdjust="spacingAndGlyphs">WGS-84 Elevation, e</text>
<text x="-391.6" y="11" font-size="18" textLength="7" lengthAdjust="spacingAndGlyphs">r</text>
<text x="-377.6" y="0" font-size="23.3" textLength="17.7" lengthAdjust="spacingAndGlyphs">=</text>
<text x="-351.3" y="0" font-size="23.3" textLength="49" lengthAdjust="spacingAndGlyphs">1.53</text>
<text x="-292.8" y="0" font-size="23.3" textLength="41.5" lengthAdjust="spacingAndGlyphs">(m)</text>
</g>
<g transform="translate(1171,0) rotate(-90)">
<text x="-571.5" y="0" font-size="23.3" textLength="149" lengthAdjust="spacingAndGlyphs">Propagation</text>
<text x="-414.5" y="0" font-size="23.3" textLength="50" lengthAdjust="spacingAndGlyphs">delay</text>
<text x="-356.5" y="0" font-size="23.3" textLength="45" lengthAdjust="spacingAndGlyphs">(us)</text>
</g>
</g>
</svg>
</body></html>
